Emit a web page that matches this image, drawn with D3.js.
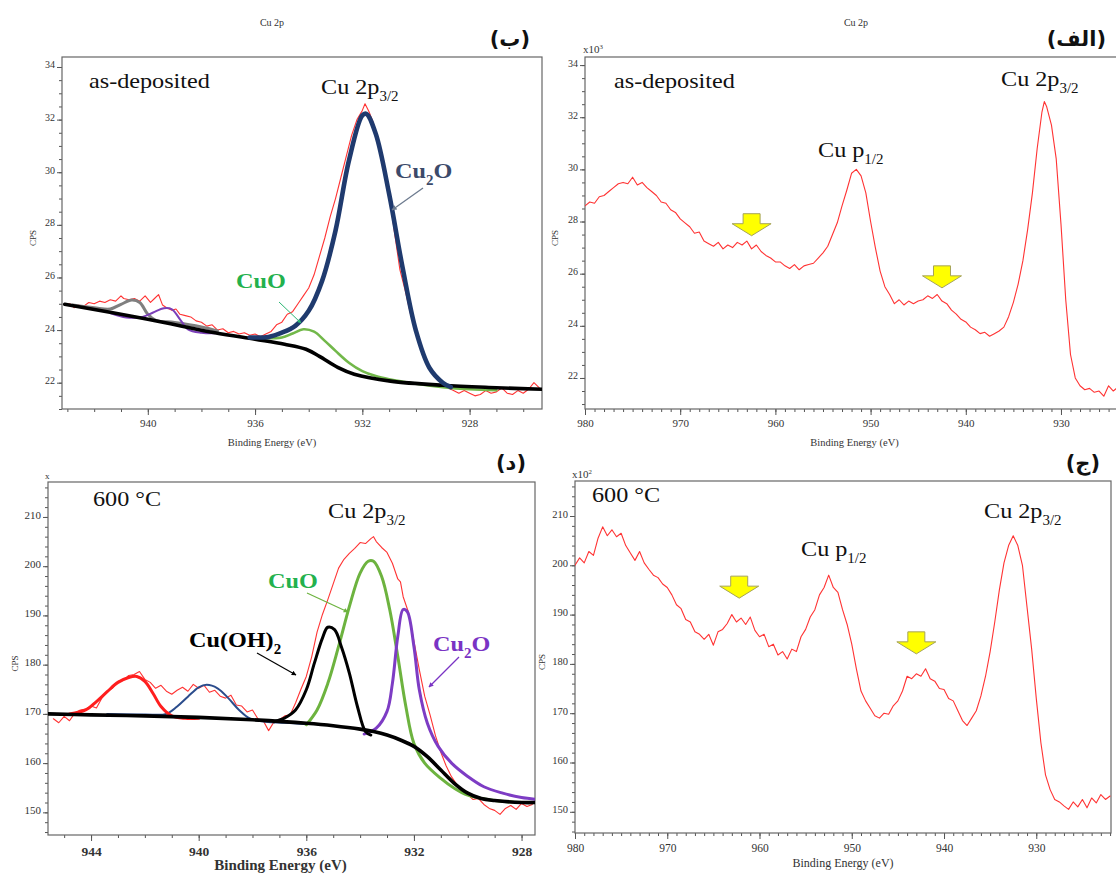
<!DOCTYPE html>
<html>
<head>
<meta charset="utf-8">
<script src="https://cdnjs.cloudflare.com/ajax/libs/d3/7.8.5/d3.min.js"></script>
<style>
body{margin:0;background:#fff}
svg{display:block}
</style>
</head>
<body>
<svg id="fig" width="1116" height="874" font-family="'Liberation Serif', 'Times New Roman', Tinos, 'DejaVu Serif', serif"></svg>
<script>
// ---- panel (الف): survey, as-deposited, CPS x10^3 ----
var specA = [[980,28.6],[979.5,28.75],[979,28.7],[978.5,28.95],[978,29.0],[977.5,29.15],[977,29.3],[976.5,29.45],[976,29.5],[975.5,29.45],[975,29.7],[974.5,29.4],[974,29.5],[973.5,29.3],[973,29.15],[972.5,29.0],[972,28.75],[971.5,28.7],[971,28.45],[970.5,28.35],[970,28.1],[969.5,27.95],[969,27.8],[968.5,27.55],[968,27.6],[967.5,27.25],[967,27.15],[966.5,27.05],[966,27.2],[965.5,26.95],[965,27.1],[964.5,27.0],[964,27.2],[963.5,27.1],[963,27.25],[962.5,26.95],[962,27.1],[961.5,26.85],[961,26.7],[960.5,26.6],[960,26.45],[959.5,26.45],[959,26.3],[958.5,26.2],[958,26.35],[957.5,26.15],[957,26.3],[956.5,26.35],[956,26.4],[955.5,26.6],[955,26.8],[954.5,27.05],[954,27.5],[953.5,27.95],[953,28.6],[952.5,29.2],[952,29.85],[951.5,30.0],[951,29.75],[950.5,29.1],[950,28.0],[949.5,27.0],[949,26.1],[948.5,25.5],[948,25.2],[947.5,24.85],[947,25.0],[946.5,24.8],[946,24.95],[945.5,24.85],[945,24.95],[944.5,25.0],[944,25.15],[943.5,25.05],[943,25.2],[942.5,24.95],[942,24.85],[941.5,24.6],[941,24.45],[940.5,24.25],[940,24.15],[939.5,23.95],[939,23.85],[938.5,23.7],[938,23.75],[937.5,23.6],[937,23.7],[936.5,23.8],[936,23.95],[935.5,24.35],[935,24.9],[934.5,25.6],[934,26.5],[933.5,27.7],[933,29.1],[932.5,30.8],[932,32.2],[931.75,32.6],[931.5,32.4],[931,31.7],[930.5,30.4],[930,27.9],[929.5,25.0],[929,22.9],[928.5,22.0],[928,21.7],[927.5,21.55],[927,21.6],[926.5,21.45],[926,21.5],[925.5,21.3],[925,21.7],[924.5,21.5],[924,21.65],[923.5,21.55]];
var arrowsA = [[962.5,28.3],[942.5,26.3]];

// ---- panel (ب): fit, as-deposited ----
var specB = [[943.1,24.95],[942.9,25.0],[942.75,24.85],[942.6,24.95],[942.4,24.9],[942.2,25.05],[942.0,25.0],[941.8,25.1],[941.6,25.05],[941.4,25.15],[941.2,25.1],[941.0,25.3],[940.9,25.2],[940.7,25.15],[940.5,25.2],[940.3,25.1],[940.1,25.3],[939.9,25.05],[939.75,25.2],[939.6,25.35],[939.45,24.95],[939.3,24.85],[939.1,24.75],[938.95,24.8],[938.8,24.6],[938.6,24.55],[938.4,24.5],[938.2,24.35],[938.0,24.3],[937.8,24.15],[937.6,24.2],[937.4,24.0],[937.2,24.05],[937.0,23.9],[936.8,23.95],[936.6,23.85],[936.4,23.9],[936.2,23.8],[936.0,23.85],[935.8,23.75],[935.6,23.85],[935.4,23.95],[935.2,24.2],[935.0,24.3],[934.8,24.6],[934.6,24.7],[934.4,25.0],[934.2,25.3],[934.0,25.6],[933.8,26.1],[933.6,26.8],[933.4,27.5],[933.2,28.3],[933.0,29.0],[932.8,29.8],[932.6,30.6],[932.4,31.4],[932.2,32.0],[932.0,32.35],[931.9,32.6],[931.75,32.3],[931.6,31.9],[931.4,31.2],[931.2,30.4],[931.0,29.2],[930.8,27.7],[930.6,26.3],[930.4,25.5],[930.2,24.6],[930.0,24.0],[929.8,23.3],[929.6,22.8],[929.4,22.45],[929.2,22.15],[929.0,21.95],[928.8,21.8],[928.6,21.7],[928.4,21.6],[928.2,21.7],[928.0,21.6],[927.8,21.5],[927.6,21.55],[927.4,21.7],[927.2,21.6],[927.0,21.65],[926.8,21.8],[926.6,21.6],[926.4,21.55],[926.2,21.7],[926.0,21.6],[925.8,21.75],[925.6,22.0],[925.4,21.8]];
var bgB = [[943.1,24.98],[940,24.41],[937.5,23.9],[936,23.65],[934.9,23.46],[934.1,23.27],[933.6,23.0],[932.9,22.57],[932.3,22.32],[930.95,22.06],[929,21.9],[927,21.81],[925.3,21.75]];
var cu2oB = [[936.2,23.72],[935.5,23.74],[935.0,23.9],[934.5,24.16],[934.0,24.73],[933.5,25.87],[933.0,27.78],[932.5,30.44],[932.0,32.16],[931.85,32.22],[931.5,31.46],[931.0,29.17],[930.5,26.38],[930.0,23.97],[929.5,22.57],[929.0,22.0],[928.7,21.83]];
var cuoB = [[935.8,23.69],[935.0,23.72],[934.6,23.87],[934.2,24.03],[933.8,23.94],[933.4,23.59],[933.0,23.21],[932.5,22.76],[932.0,22.44],[931.5,22.25],[931.0,22.13],[930.0,21.96],[929.0,21.83],[928.0,21.75],[927.0,21.71]];
var satGrayB = [[942.8,24.95],[942.0,24.85],[941.4,24.8],[941.0,24.98],[940.6,25.14],[940.3,25.05],[940.0,24.6],[939.7,24.37],[939.0,24.29],[938.0,24.12],[937.4,23.97]];
var satPurpleB = [[941.4,24.65],[940.8,24.48],[940.2,24.5],[939.8,24.67],[939.4,24.83],[939.1,24.79],[938.8,24.41],[938.5,24.03],[938.0,23.9],[937.5,23.88]];

// ---- panel (ج): survey, 600 °C, CPS x10^2 ----
var specC = [[980,200.0],[979.5,201.5],[979,200.5],[978.5,202.8],[978,202.0],[977.5,205.5],[977,207.8],[976.5,206.0],[976,207.2],[975.5,205.8],[975,206.5],[974.5,204.0],[974,202.5],[973.5,201.0],[973,202.8],[972.5,200.5],[972,199.2],[971.5,198.0],[971,197.5],[970.5,196.2],[970,195.5],[969.5,194.0],[969,192.0],[968.5,191.2],[968,189.0],[967.5,188.5],[967,186.5],[966.5,186.0],[966,185.0],[965.5,186.0],[965,183.8],[964.5,186.5],[964,187.0],[963.5,188.2],[963,190.0],[962.5,188.5],[962,189.3],[961.5,188.0],[961,189.5],[960.5,186.8],[960,185.5],[959.5,186.0],[959,183.5],[958.5,184.0],[958,181.8],[957.5,182.5],[957,181.0],[956.5,183.0],[956,182.5],[955.5,185.5],[955,187.0],[954.5,189.5],[954,191.0],[953.5,194.0],[953,195.5],[952.5,198.0],[952,195.5],[951.5,194.5],[951,191.0],[950.5,188.0],[950,184.0],[949.5,179.0],[949,174.5],[948.5,172.5],[948,171.0],[947.5,169.5],[947,169.0],[946.5,170.0],[946,169.8],[945.5,171.5],[945,172.5],[944.5,174.5],[944,177.5],[943.5,177.0],[943,178.0],[942.5,177.5],[942,179.0],[941.5,177.0],[941,176.5],[940.5,175.0],[940,174.8],[939.5,173.0],[939,172.5],[938.5,170.5],[938,168.5],[937.5,167.5],[937,169.0],[936.5,170.5],[936,173.5],[935.5,177.5],[935,182.5],[934.5,188.5],[934,195.0],[933.5,200.5],[933,204.0],[932.5,206.0],[932,204.0],[931.5,200.0],[931,191.5],[930.5,183.0],[930,173.0],[929.5,164.0],[929,157.5],[928.5,154.5],[928,152.5],[927.5,152.0],[927,151.2],[926.5,150.5],[926,152.0],[925.5,151.0],[925,152.5],[924.5,150.8],[924,152.8],[923.5,151.8],[923,153.5],[922.5,152.5],[922,153.2]];
var arrowsC = [[962.2,197.8],[943.0,186.5]];

// ---- panel (د): fit, 600 °C ----
var specD = [[945.4,169.0],[945.2,168.2],[945.0,169.5],[944.8,168.6],[944.6,170.2],[944.4,170.8],[944.2,171.0],[944.0,171.6],[943.8,171.2],[943.6,173.2],[943.4,174.6],[943.2,175.2],[943.0,176.6],[942.8,176.8],[942.6,177.8],[942.4,178.0],[942.2,178.6],[942.0,177.0],[941.8,176.4],[941.6,175.2],[941.4,175.8],[941.2,174.6],[941.0,174.0],[940.8,174.8],[940.6,175.4],[940.4,174.6],[940.2,176.0],[940.0,175.2],[939.8,175.8],[939.6,174.4],[939.4,174.8],[939.2,173.6],[939.0,173.2],[938.8,173.8],[938.6,171.8],[938.4,171.6],[938.2,170.4],[938.0,170.8],[937.8,169.0],[937.6,168.6],[937.4,166.6],[937.2,168.4],[937.0,168.8],[936.8,169.6],[936.6,169.8],[936.4,172.2],[936.2,175.0],[936.0,177.6],[935.8,181.6],[935.6,186.6],[935.4,190.2],[935.2,193.2],[935.0,196.4],[934.8,199.6],[934.6,201.4],[934.4,202.6],[934.2,203.6],[934.0,204.8],[933.8,204.6],[933.6,205.6],[933.5,206.0],[933.4,205.0],[933.2,203.8],[933.0,202.8],[932.8,200.6],[932.6,197.4],[932.5,196.8],[932.4,193.8],[932.2,190.6],[932.0,184.8],[931.8,179.0],[931.6,173.6],[931.4,169.8],[931.2,165.6],[931.0,162.2],[930.8,159.4],[930.6,157.2],[930.4,155.6],[930.2,154.0],[930.0,153.6],[929.8,152.6],[929.6,152.8],[929.4,151.6],[929.2,150.8],[929.0,150.4],[928.8,149.6],[928.6,150.8],[928.4,151.4],[928.2,150.6],[928.0,151.8],[927.8,151.2],[927.6,151.6]];
var bgD = [[945.6,170.0],[944,169.8],[942,169.6],[940,169.3],[938,168.8],[936,168.1],[935,167.6],[934,166.9],[933.5,166.4],[933,165.7],[932.5,164.7],[932,163.4],[931.5,161.3],[931,158.6],[930.5,155.9],[930,153.9],[929.5,152.8],[929,152.4],[928,152.0],[927.4,152.0]];
var cuohD = [[937.2,168.4],[936.8,169.2],[936.4,170.8],[936.0,174.9],[935.7,180.3],[935.4,185.4],[935.2,187.6],[934.95,187.1],[934.7,183.7],[934.4,178.3],[934.1,171.5],[933.8,166.4],[933.6,165.7]];
var cuoD = [[936.0,167.8],[935.6,170.8],[935.2,176.2],[934.8,183.7],[934.4,191.8],[934.0,198.6],[933.7,201.0],[933.5,201.0],[933.2,197.9],[932.9,191.2],[932.6,181.7],[932.3,171.5],[932.0,164.0],[931.6,160.0],[931.0,156.9],[930.5,154.9],[930.0,153.5],[929.0,152.4],[928.0,152.0],[927.4,152.0]];
var cu2oD = [[933.85,165.9],[933.4,167.1],[933.0,170.5],[932.8,176.2],[932.6,185.7],[932.4,191.2],[932.25,190.8],[932.0,183.7],[931.8,174.9],[931.5,168.1],[931.1,163.4],[930.6,160.0],[930.0,157.3],[929.4,155.2],[928.7,153.9],[928.0,153.0],[927.4,152.6]];
var satRedD = [[944.8,170.0],[944.2,170.8],[943.8,172.5],[943.4,174.5],[943.0,176.4],[942.6,177.4],[942.3,177.6],[942.0,176.6],[941.7,174.2],[941.4,171.5],[941.0,169.6],[940.5,169.1],[940.0,169.1]];
var satBlueD = [[943.4,170.0],[942.0,169.9],[941.2,170.0],[940.8,171.5],[940.4,173.5],[940.0,175.4],[939.7,175.9],[939.3,175.2],[938.9,173.2],[938.5,170.8],[938.1,169.1],[937.5,168.4],[936.8,168.2],[936.0,167.9]];

// tick labels
var ticksNarrowX = [940, 936, 932, 928];
var ticksNarrowXd = [944, 940, 936, 932, 928];
var ticksWideX = [980, 970, 960, 950, 940, 930];
var ticksYlow = [22, 24, 26, 28, 30, 32, 34];
var ticksYhigh = [150, 160, 170, 180, 190, 200, 210];

var SERIF = "'Liberation Serif', 'Times New Roman', Tinos, 'DejaVu Serif', serif";
var svg = d3.select("#fig");
var defs = svg.append("defs");

function marker(id, color) {
    defs.append("marker").attr("id", id)
        .attr("viewBox", "0 0 10 10").attr("refX", 9).attr("refY", 5)
        .attr("markerWidth", 4).attr("markerHeight", 4).attr("orient", "auto")
        .append("path").attr("d", "M0,0L10,5L0,10Z").attr("fill", color);
}
marker("mGray", "#6d7b8f");
marker("mTeal", "#2bb673");
marker("mGreen", "#6db33f");
marker("mBlack", "#000");
marker("mPurple", "#7a33c4");

function label(parts, x, y, size, color, bold) {
    var t = svg.append("text")
        .attr("transform", "translate(" + x + "," + y + ") scale(1.1,1)")
        .attr("font-family", SERIF)
        .attr("font-size", size)
        .attr("font-weight", bold ? "bold" : "normal")
        .attr("fill", color || "#111");
    var shift = 0;
    parts.forEach(function(p) {
        var s = p[1] === "sub" ? 0.3 : (p[1] === "sup" ? -0.45 : 0);
        var fs = p[1] ? size * 0.62 : size;
        t.append("tspan").text(p[0])
            .attr("font-size", fs)
            .attr("dy", ((s - shift) * size) + "px");
        shift = s;
    });
    return t;
}

function pointer(x1, y1, x2, y2, color, mk, w) {
    svg.append("line").attr("x1", x1).attr("y1", y1).attr("x2", x2).attr("y2", y2)
        .attr("stroke", color).attr("stroke-width", w || 1.2)
        .attr("marker-end", "url(#" + mk + ")");
}

function panel(p) {
    var x = d3.scaleLinear().domain(p.xd).range([p.l, p.r]);
    var y = d3.scaleLinear().domain(p.yd).range([p.b, p.t]);
    var g = svg.append("g");

    defs.append("clipPath").attr("id", "clip" + p.name)
        .append("rect").attr("x", p.l).attr("y", p.t)
        .attr("width", p.r - p.l).attr("height", p.b - p.t);

    var xMinor = d3.range(Math.ceil(p.xd[1]), Math.floor(p.xd[0]) + 1, 1);
    var yMinor = d3.range(Math.ceil(p.yd[0] / p.yStep) * p.yStep, p.yd[1], p.yStep);

    var ax1 = g.append("g").attr("transform", "translate(0," + p.b + ")")
        .call(d3.axisBottom(x).tickValues(xMinor).tickSize(3).tickFormat(""));
    var ax2 = g.append("g").attr("transform", "translate(0," + p.b + ")")
        .call(d3.axisBottom(x).tickValues(p.xTicks).tickSize(6).tickPadding(p.xPad).tickFormat(d3.format("d")));
    var ay1 = g.append("g").attr("transform", "translate(" + p.l + ",0)")
        .call(d3.axisLeft(y).tickValues(yMinor).tickSize(3).tickFormat(""));
    var ay2 = g.append("g").attr("transform", "translate(" + p.l + ",0)")
        .call(d3.axisLeft(y).tickValues(p.yTicks).tickSize(5).tickPadding(2).tickFormat(d3.format("d")));
    [ax1, ax2, ay1, ay2].forEach(function(a) {
        a.attr("font-family", SERIF);
        a.select(".domain").remove();
        a.selectAll("line").attr("stroke", "#555");
        a.selectAll("text").attr("font-family", SERIF).attr("fill", "#333");
    });
    ax2.selectAll("text").attr("font-size", p.xFont).attr("font-weight", p.xBold ? "bold" : "normal");
    ay2.selectAll("text").attr("font-size", p.yFont).attr("dy", "0.1em");

    g.append("rect").attr("x", p.l).attr("y", p.t)
        .attr("width", p.r - p.l).attr("height", p.b - p.t)
        .attr("fill", "none").attr("stroke", "#666").attr("stroke-width", 1.2);

    var plot = g.append("g").attr("clip-path", "url(#clip" + p.name + ")");
    p.series.forEach(function(s) {
        var line = d3.line().x(function(d) { return x(d[0]); }).y(function(d) { return y(d[1]); })
            .curve(s.smooth ? d3.curveCatmullRom.alpha(0.5) : d3.curveLinear);
        plot.append("path").datum(s.data).attr("d", line)
            .attr("fill", "none").attr("stroke", s.color).attr("stroke-width", s.w)
            .attr("stroke-linejoin", "round").attr("stroke-linecap", "round");
    });

    (p.arrows || []).forEach(function(a) {
        var cx = x(a[0]), t = y(a[1]);
        plot.append("path")
            .attr("d", "M" + (cx - 8.5) + "," + t + "L" + (cx + 8.5) + "," + t + "L" + (cx + 8.5) + "," + (t + 10) +
                "L" + (cx + 19.5) + "," + (t + 10) + "L" + cx + "," + (t + 22) + "L" + (cx - 19.5) + "," + (t + 10) +
                "L" + (cx - 8.5) + "," + (t + 10) + "Z")
            .attr("fill", "#ffff00").attr("stroke", "#a5a35a").attr("stroke-width", 1);
    });

    svg.append("text").attr("x", (p.l + Math.min(p.r, 1116)) / 2 - p.titleShift).attr("y", p.b + p.xTitleDy)
        .attr("text-anchor", "middle").attr("font-size", p.xTitleFont).attr("font-family", SERIF)
        .attr("font-weight", p.xBold ? "bold" : "normal").attr("fill", "#333")
        .text("Binding Energy (eV)");
    svg.append("text").attr("transform", "translate(" + p.cpsX + "," + ((p.t + p.b) / 2 + 5) + ") rotate(-90)")
        .attr("text-anchor", "middle").attr("font-size", 9).attr("font-family", SERIF).attr("fill", "#333").text("CPS");
}

panel({name: "b", l: 62, t: 57, r: 542, b: 409, xd: [943.2, 925.3], yd: [21.0, 34.38],
    xTicks: ticksNarrowX, yTicks: ticksYlow, yStep: 0.5, xPad: 4, xFont: 11, yFont: 10,
    xTitleDy: 37, xTitleFont: 10.5, titleShift: 30, cpsX: 36,
    series: [
        {data: specB, color: "#ff3333", w: 1.1},
        {data: satGrayB, color: "#7f7f7f", w: 3, smooth: true},
        {data: satPurpleB, color: "#7b3fb8", w: 2, smooth: true},
        {data: cuoB, color: "#72b84a", w: 2.6, smooth: true},
        {data: bgB, color: "#000", w: 3.6, smooth: true},
        {data: cu2oB, color: "#1f3a6e", w: 4.6, smooth: true}
    ]});

panel({name: "a", l: 585, t: 57, r: 1130, b: 409, xd: [980, 922.75], yd: [20.81, 34.31],
    xTicks: ticksWideX, yTicks: ticksYlow, yStep: 0.5, xPad: 4, xFont: 11, yFont: 10,
    xTitleDy: 37, xTitleFont: 10.5, titleShift: -4, cpsX: 558,
    arrows: arrowsA,
    series: [{data: specA, color: "#ff3333", w: 1.1}]});

panel({name: "d", l: 48, t: 482, r: 535, b: 835, xd: [945.6, 927.5], yd: [145.4, 217.1],
    xTicks: ticksNarrowXd, yTicks: ticksYhigh, yStep: 2, xPad: 5, xFont: 13.5, xBold: true, yFont: 11,
    xTitleDy: 35, xTitleFont: 15, titleShift: 11, cpsX: 18,
    series: [
        {data: specD, color: "#ff3333", w: 1.1},
        {data: satBlueD, color: "#2b4c8c", w: 2, smooth: true},
        {data: satRedD, color: "#ff1e1e", w: 3, smooth: true},
        {data: cuoD, color: "#6db33f", w: 3, smooth: true},
        {data: cu2oD, color: "#7d3cc4", w: 3, smooth: true},
        {data: cuohD, color: "#000", w: 3, smooth: true},
        {data: bgD, color: "#000", w: 3.6, smooth: true}
    ]});

panel({name: "c", l: 575, t: 481, r: 1111, b: 833, xd: [980, 921.9], yd: [145.7, 217.1],
    xTicks: ticksWideX, yTicks: ticksYhigh, yStep: 2, xPad: 5, xFont: 11.5, yFont: 10.5,
    xTitleDy: 34, xTitleFont: 12, titleShift: 0, cpsX: 545,
    arrows: arrowsC,
    series: [{data: specC, color: "#ff3333", w: 1.1}]});

// panel titles and multipliers
svg.append("text").attr("x", 272).attr("y", 26).attr("text-anchor", "middle").attr("font-size", 10).attr("font-family", SERIF).attr("fill", "#333").text("Cu 2p");
svg.append("text").attr("x", 856).attr("y", 26).attr("text-anchor", "middle").attr("font-size", 10).attr("font-family", SERIF).attr("fill", "#333").text("Cu 2p");
label([["x10"], ["3", "sup"]], 583, 53, 10, "#333");
label([["x10"], ["2", "sup"]], 572, 478, 10, "#333");
svg.append("text").attr("x", 45).attr("y", 479).attr("font-size", 9).attr("font-family", SERIF).attr("fill", "#333").text("x");

// Arabic panel letters
[["(ب)", 530, 46], ["(الف)", 1106, 46], ["(د)", 526, 470], ["(ج)", 1100, 470]].forEach(function(l) {
    svg.append("text").attr("x", l[1]).attr("y", l[2]).attr("text-anchor", "end")
        .attr("font-family", "'DejaVu Sans', sans-serif").attr("font-weight", "bold")
        .attr("font-size", 21).attr("fill", "#111").attr("direction", "ltr").text(l[0]);
});

// annotations (ب)
label([["as-deposited"]], 89, 88, 22);
label([["Cu 2p"], ["3/2", "sub"]], 321, 94, 22);
label([["Cu"], ["2", "sub"], ["O"]], 395, 178, 22, "#3c4a6a", true);
label([["CuO"]], 236, 288, 22, "#23b14d", true);
pointer(423, 188, 392, 210, "#6d7b8f", "mGray", 1.3);
pointer(279, 302, 301, 323, "#2bb673", "mTeal", 1);

// annotations (الف)
label([["as-deposited"]], 614, 88, 22);
label([["Cu 2p"], ["3/2", "sub"]], 1001, 86, 22);
label([["Cu p"], ["1/2", "sub"]], 818, 157, 22);

// annotations (د)
label([["600 °C"]], 93, 506, 22);
label([["Cu 2p"], ["3/2", "sub"]], 328, 518, 22);
label([["CuO"]], 268, 588, 22, "#23b14d", true);
label([["Cu(OH)"], ["2", "sub"]], 189, 647, 22, "#000", true);
label([["Cu"], ["2", "sub"], ["O"]], 433, 651, 22, "#7a33c4", true);
pointer(307, 593, 348, 612, "#6db33f", "mGreen", 1.2);
pointer(257, 653, 296, 675, "#000", "mBlack", 1.2);
pointer(459, 657, 429, 687, "#7a33c4", "mPurple", 1.2);

// annotations (ج)
label([["600 °C"]], 592, 502, 22);
label([["Cu 2p"], ["3/2", "sub"]], 984, 518, 22);
label([["Cu p"], ["1/2", "sub"]], 801, 556, 22);
</script>
</body>
</html>
